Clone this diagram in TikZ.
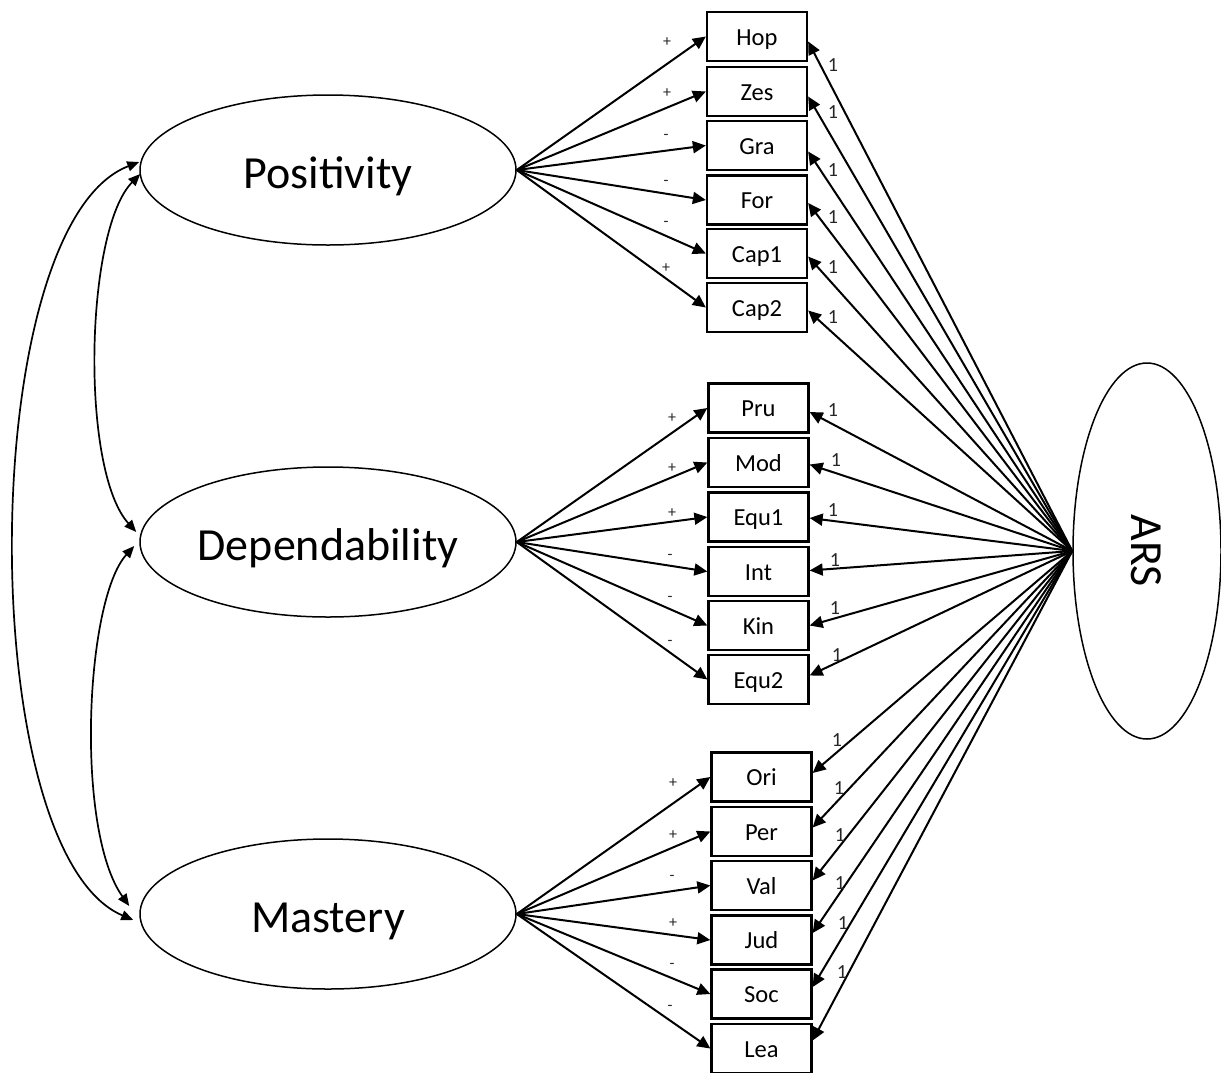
\documentclass[tikz,border=0pt]{standalone}
\usepackage{fontspec}
\setmainfont{Carlito}
\usetikzlibrary{shapes.geometric,arrows.meta,calc}
\begin{document}
\begin{tikzpicture}[x=1pt,y=-1pt,
  latent/.style={draw,ellipse,line width=1.5pt,inner sep=0pt,minimum width=376pt,minimum height=150pt,text height=38pt,text depth=1pt,font=\fontsize{46}{50}\selectfont},
  obs/.style={draw,rectangle,line width=2.3pt,minimum width=100pt,minimum height=49pt,inner sep=0pt,text height=18pt,text depth=1pt,font=\fontsize{24.5}{28}\selectfont},
  load/.style={line width=2pt,-{Triangle[length=13pt,width=12pt]}},
  cov/.style={line width=1.7pt,{Triangle[length=12pt,width=10pt]}-{Triangle[length=12pt,width=10pt]}},
  sgn/.style={font=\fontsize{16}{18}\selectfont,inner sep=0pt,text=black!85},
  one/.style={font=\fontsize{20}{22}\selectfont,inner sep=0pt,text=black!85}]
\useasboundingbox (0,0) rectangle (1221,1072);

\node[latent] (pos) at (328,170) {Positivity};
\node[latent] (dep) at (328,542) {Dependability};
\node[latent] (mas) at (328,914) {Mastery};
\node[latent,minimum width=148pt,minimum height=376pt] (ars) at (1147,551) {};
\node[rotate=-90,inner sep=0pt,font=\fontsize{46}{50}\selectfont] (arstext) at (1146,551) {ARS};

% Positivity items
\foreach \n/\t/\y/\s/\o/\sx/\sy/\lx/\ly in {
  hop/Hop/36.5/+/5/667/42/833/65,
  zes/Zes/91.5/+/5/667/93/833/112,
  gra/Gra/145.5/-/6/666/137/833/170,
  for/For/200/-/3/666/183/833/217,
  capa/Cap1/253.5/-/3/666/224/833/267,
  capb/Cap2/307.5/+/3/666/268/833/317}{
  \node[obs] (\n) at (757,\y) {\t};
  \draw[load] (pos.east) -- (\n.west);
  \draw[load] (ars.west) -- ($(\n.east)+(0,\o)$);
  \node[sgn] (s\n) at (\sx,\sy) {\s};
  \node[one] (l\n) at (\lx,\ly) {1};
}
% Dependability items
\foreach \n/\t/\y/\s/\o/\sx/\sy/\lx/\ly in {
  pru/Pru/408/+/4/672/418/833/410,
  mod/Mod/462.5/+/2/672/468/836/460,
  equa/Equ1/517/+/1/672/513/833/510,
  int/Int/571.5/-/-1/670/557/835/560,
  kin/Kin/625.5/-/0/670/599/835/608,
  equb/Equ2/679.5/-/-4/670/643/837/655}{
  \node[obs] (\n) at (758.5,\y) {\t};
  \draw[load] (dep.east) -- (\n.west);
  \draw[load] (ars.west) -- ($(\n.east)+(0,\o)$);
  \node[sgn] (s\n) at (\sx,\sy) {\s};
  \node[one] (l\n) at (\lx,\ly) {1};
}
% Mastery items
\foreach \n/\t/\y/\s/\o/\sx/\sy/\lx/\ly in {
  ori/Ori/777/+/-4/673/783/837/740,
  per/Per/831.5/+/-4/673/835/839/788,
  val/Val/885.5/-/-5/672/878/840/835,
  jud/Jud/940/+/-7/673/923/840/883,
  soc/Soc/994/-/-7/672/966/843/923,
  lea/Lea/1048.5/-/-8/670/1008/842/972}{
  \node[obs] (\n) at (761.5,\y) {\t};
  \draw[load] (mas.east) -- (\n.west);
  \draw[load] (ars.west) -- ($(\n.east)+(0,\o)$);
  \node[sgn] (s\n) at (\sx,\sy) {\s};
  \node[one] (l\n) at (\lx,\ly) {1};
}

% covariances
\coordinate (pa) at ($(pos.west)+(0,-8)$);
\coordinate (pb) at ($(pos.west)+(1,4)$);
\coordinate (da) at ($(dep.west)+(-3,-10)$);
\coordinate (db) at ($(dep.west)+(-5,4)$);
\coordinate (ma) at ($(mas.west)+(-10,-8)$);
\coordinate (mb) at ($(mas.west)+(-6,6)$);
\draw[cov] (pa) .. controls (-25,225) and (-27,852) .. (mb);
\draw[cov] (pb) .. controls (85,230) and (80,470) .. (da);
\draw[cov] (db) .. controls (85,600) and (75,830) .. (ma);
\end{tikzpicture}
\end{document}
